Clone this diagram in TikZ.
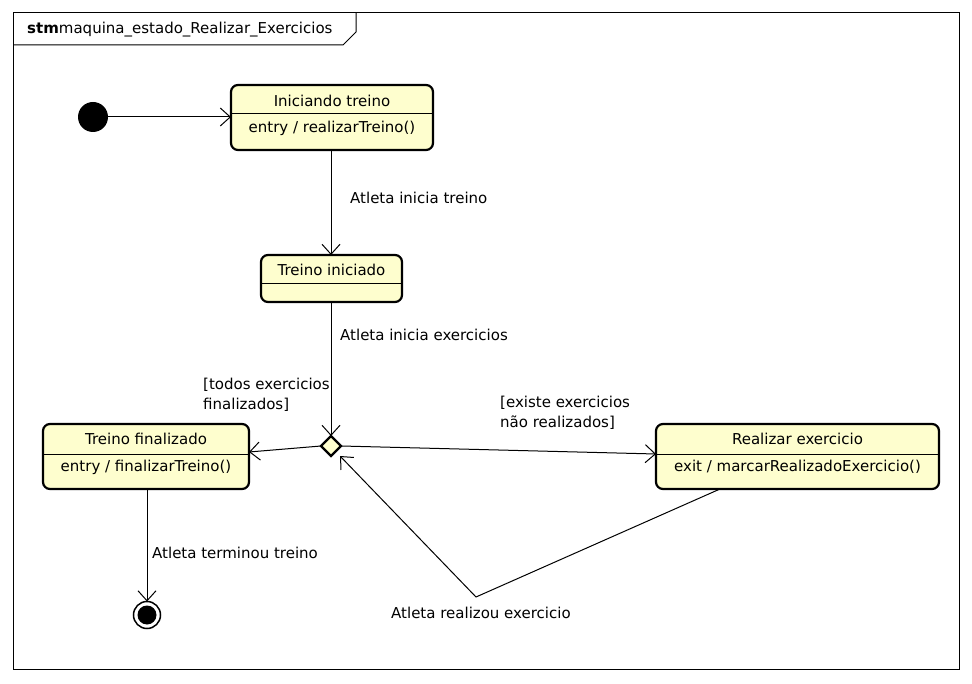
\documentclass[tikz,border=0pt]{standalone}
\usepackage{fontspec}
\setmainfont{DejaVu Sans}
\usetikzlibrary{arrows.meta,shapes.geometric}
\definecolor{statefill}{HTML}{FEFECE}
\tikzset{
  statebox/.style={draw,line width=2.2pt,rounded corners=7pt,fill=statefill},
  divline/.style={line width=1pt},
  conn/.style={line width=1pt,-{Straight Barb[length=10pt,width=18pt,line width=1pt]}},
  lbl/.style={font=\fontsize{15}{20}\selectfont,inner sep=0pt,anchor=west,align=left},
  ttl/.style={font=\fontsize{15}{18}\selectfont,inner sep=0pt},
}
\begin{document}
\begin{tikzpicture}[x=1pt,y=-1pt]
\useasboundingbox (0,0) rectangle (972,684);
\fill[white] (0,0) rectangle (972,684);
% frame
\draw[line width=1pt] (13,13) rectangle (959,669);
\draw[line width=1pt] (13,45) -- (343,45) -- (356,32) -- (356,13);
\node[anchor=west,inner sep=0pt,font=\fontsize{15}{18}\selectfont] (title) at (27,30) {\textbf{stm}maquina\_estado\_Realizar\_Exercicios};

% initial
\fill (93,117) circle (15);
\node[circle,minimum size=30pt,inner sep=0pt] (init) at (93,117) {};

% Iniciando treino
\draw[statebox] (231,85) rectangle (433,150);
\node[minimum width=202pt,minimum height=65pt,inner sep=0pt] (s1) at (332,117.5) {};
\draw[divline] (231,114) -- (433,114);
\node[ttl] at (332,101) {Iniciando treino};
\node[ttl] at (332,128) {entry / realizarTreino()};

% Treino iniciado
\draw[statebox] (261,255) rectangle (402,302);
\node[minimum width=141pt,minimum height=47pt,inner sep=0pt] (s2) at (331.5,278.5) {};
\draw[divline] (261,284) -- (402,284);
\node[ttl] at (331.5,270) {Treino iniciado};

% Treino finalizado
\draw[statebox] (43,424) rectangle (249,489);
\node[minimum width=206pt,minimum height=65pt,inner sep=0pt] (s3) at (146,456.5) {};
\draw[divline] (43,454) -- (249,454);
\node[ttl] at (146,439) {Treino finalizado};
\node[ttl] at (146,467) {entry / finalizarTreino()};

% Realizar exercicio
\draw[statebox] (656,424) rectangle (939,489);
\node[minimum width=283pt,minimum height=65pt,inner sep=0pt] (s4) at (797.5,456.5) {};
\draw[divline] (656,454) -- (939,454);
\node[ttl] at (797.5,439) {Realizar exercicio};
\node[ttl] at (797.5,467) {exit / marcarRealizadoExercicio()};

% decision
\draw[fill=statefill,line width=2.2pt] (331,436) -- (341,446) -- (331,456) -- (321,446) -- cycle;
\coordinate (dtop) at (331,436);
\coordinate (dleft) at (321,446);
\coordinate (dright) at (341,446);
\coordinate (dbr) at (340,456);

% final
\draw[line width=1.5pt,fill=white] (147,615) circle (13.5);
\fill (147,615) circle (9.5);
\coordinate (fin) at (147,601.5);

% connectors
\coordinate (s1b) at (331,150);
\coordinate (s2t) at (331,255);
\coordinate (s2b) at (331,302);
\coordinate (s3r) at (249,452);
\coordinate (s4l) at (656,454);
\coordinate (s4b) at (720,489);
\coordinate (bend) at (476,597);
\coordinate (s3b) at (147,489);
\coordinate (initr) at (108,117);
\coordinate (s1l) at (231,117);

\draw[conn] (initr) -- (s1l);
\draw[conn] (s1b) -- (s2t);
\draw[conn] (s2b) -- (dtop);
\draw[conn] (dleft) -- (s3r);
\draw[conn] (dright) -- (s4l);
\draw[conn] (s4b) -- (bend) -- (dbr);
\draw[conn] (s3b) -- (fin);

% labels
\node[lbl] (l1) at (350,198) {Atleta inicia treino};
\node[lbl] (l2) at (340,335) {Atleta inicia exercicios};
\node[lbl] (l3) at (203,395) {[todos exercicios\\finalizados]};
\node[lbl] (l4) at (500,413) {[existe exercicios\\não realizados]};
\node[lbl] (l5) at (152,553) {Atleta terminou treino};
\node[lbl] (l6) at (391,613) {Atleta realizou exercicio};
\end{tikzpicture}
\end{document}
